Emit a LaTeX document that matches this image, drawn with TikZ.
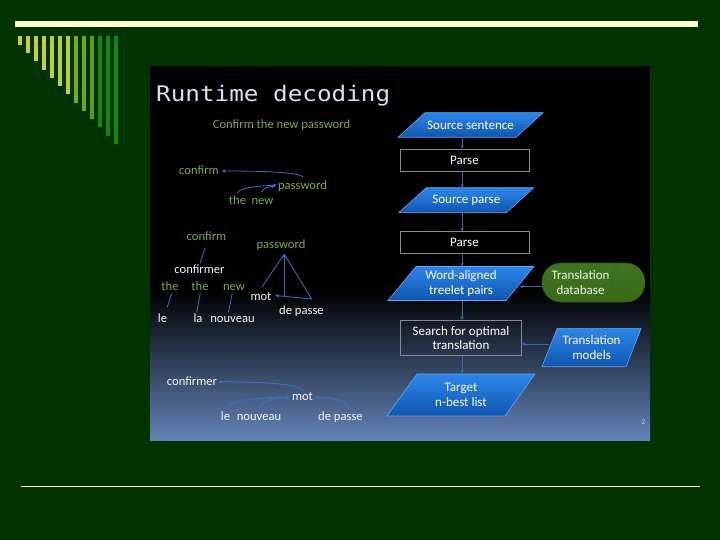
\documentclass[tikz,border=0pt]{standalone}
\usepackage{graphicx}
\usepackage{fontspec}
\setmainfont{Carlito}
\newfontfamily\titlefont{DejaVu Sans Mono}
\usetikzlibrary{arrows.meta}
\definecolor{bg}{HTML}{003300}
\definecolor{cream}{HTML}{FFFFCC}
\definecolor{barA}{HTML}{CCCC44}
\definecolor{barB}{HTML}{BBCC44}
\definecolor{barC}{HTML}{77AA22}
\definecolor{barD}{HTML}{66AA22}
\definecolor{barE}{HTML}{669911}
\definecolor{barF}{HTML}{118811}
\definecolor{imgbot}{HTML}{6383B8}
\definecolor{tgreen}{HTML}{7AAB45}
\definecolor{twhite}{HTML}{F4F4F4}
\definecolor{tblue}{HTML}{3C6FC4}
\definecolor{fblue}{HTML}{3568B0}
\definecolor{boxgrey}{HTML}{8A8A8A}
\definecolor{pblueT}{HTML}{2D86E8}
\definecolor{pblueB}{HTML}{0F55B0}
\definecolor{pblueE}{HTML}{62A6F0}
\definecolor{dbtop}{HTML}{3F7420}
\definecolor{dbmid}{HTML}{5B9430}
\definecolor{dbbot}{HTML}{3A6A18}
\definecolor{dbedge}{HTML}{2F5A14}
\definecolor{dbline}{HTML}{3A6A1C}
\definecolor{dbtext}{HTML}{EEF5E6}
\definecolor{ttl}{HTML}{D2E5F5}
\definecolor{pnum}{HTML}{B0C2E0}
\newcommand\pgram[7]{%
  \shade[pshade] ({#2-#4+#6},{#3-#5}) -- ({#2+#4+#6},{#3-#5}) -- ({#2+#4-#6},{#3+#5}) -- ({#2-#4-#6},{#3+#5}) -- cycle;
  \node[ptext, minimum width={2*#4pt}, minimum height={2*#5pt}] (#1) at (#2,#3) {#7};}
\begin{document}
\begin{tikzpicture}[x=1pt,y=-1pt,
  gt/.style={text=tgreen, font=\fontsize{12.6}{14}\selectfont, inner sep=0pt, anchor=base},
  wt/.style={gt, text=twhite},
  tl/.style={draw=tblue, line width=0.8pt},
  ta/.style={tl, -{Stealth[length=4pt,width=3.5pt]}},
  ptext/.style={text=white, font=\fontsize{13}{14.4}\selectfont, align=center, inner sep=0pt},
  pbox/.style={ptext, draw=boxgrey, line width=0.8pt},
  pshade/.style={top color=pblueT, bottom color=pblueB, draw=pblueE, line width=0.6pt},
  dbox/.style={rectangle, rounded corners=19pt, minimum width=103pt, minimum height=39pt, inner sep=0pt,
    top color=dbtop, middle color=dbmid, bottom color=dbbot, draw=dbedge, line width=0.6pt},
  fc/.style={draw=fblue, line width=0.9pt, -{Stealth[length=3.5pt,width=3.5pt]}}]
\useasboundingbox (0,0) rectangle (720,540);
\fill[bg] (0,0) rectangle (720,540);
% slide decoration
\fill[cream] (15,21) rectangle (698,27);
\foreach \i/\c in {0/barA,1/barA,2/barA,3/barA,4/barB,5/barB,6/barB,7/barC,8/barD,9/barE,10/barF,11/barF,12/barF}
  \fill[\c] ({18+8*\i},36) rectangle ({21.7+8*\i},{45+8.25*\i});
\fill[cream] (20.7,485.5) rectangle (700,487);
% picture
\fill[black] (150,66) rectangle (650,291);
\shade[top color=black, bottom color=imgbot] (150,290) rectangle (650,440.7);
\node[anchor=base west, inner sep=0pt, text=ttl] (title) at (156,102)
  {\scalebox{1.13}[1]{\titlefont\fontsize{21.5}{24}\selectfont Runtime decoding}};
% tree 1
\node[gt] (hdr) at (281.5,129) {Confirm the new password};
\node[gt] (c1) at (199,175) {confirm};
\node[gt] (p1) at (302.5,190) {password};
\node[gt] (t1) at (237.5,204.3) {the};
\node[gt] (n1) at (262.5,204.3) {new};
\draw[ta] ([shift={(0.8,-13)}]p1.base) .. controls +(-6,-5) and +(40,0) .. ([shift={(22.7,-4)}]c1.base);
\draw[ta] ([shift={(-0.2,-11.6)}]t1.base) .. controls +(4,-6) and +(-15,1) .. ([shift={(-25.8,-5)}]p1.base);
\draw[ta] ([shift={(-0.8,-12.3)}]n1.base) .. controls +(3,-5) and +(-8,1) .. ([shift={(-27,-4)}]p1.base);
% tree 2
\node[gt] (c2) at (206.5,240.7) {confirm};
\node[wt] (cr2) at (199.5,273.3) {confirmer};
\node[gt] (th2a) at (170,290) {the};
\node[gt] (th2b) at (200,290) {the};
\node[gt] (nw2) at (234,290) {new};
\node[wt] (le2) at (162.5,322.3) {le};
\node[wt] (la2) at (198,322.3) {la};
\node[wt] (nv2) at (232.5,322.3) {nouveau};
\node[gt] (pw2) at (281,248.3) {password};
\node[wt] (mot2) at (261,300) {mot};
\node[wt] (dp2) at (301.5,314) {de passe};
\draw[tl] ([shift={(-1.5,7.3)}]c2.base) -- ([shift={(0.5,-9.8)}]cr2.base);
\draw[tl] ([shift={(1.7,3.5)}]th2a.base) -- ([shift={(4.8,-15.3)}]le2.base);
\draw[tl] ([shift={(0.3,3)}]th2b.base) -- ([shift={(-1.3,-9.8)}]la2.base);
\draw[tl] ([shift={(-1.7,3)}]nw2.base) -- ([shift={(-4.2,-9.8)}]nv2.base);
\coordinate (apex) at ([shift={(3.3,5.7)}]pw2.base);
\coordinate (rb) at ([shift={(10.2,-15)}]dp2.base);
\draw[tl] (apex) -- ([shift={(0.7,-12.7)}]mot2.base);
\draw[ta] ([shift={(23.3,-3)}]mot2.base) -- (apex);
\draw[tl] (apex) -- (rb);
\draw[ta] (rb) -- ([shift={(14,-4.5)}]mot2.base);
% tree 3
\node[wt] (cr3) at (192,385.7) {confirmer};
\node[wt] (mot3) at (302.5,400.7) {mot};
\node[wt] (le3) at (225.5,420) {le};
\node[wt] (nv3) at (259,420) {nouveau};
\node[wt] (dp3) at (340.5,420) {de passe};
\draw[ta, line width=1pt] ([shift={(0.8,-10)}]mot3.base) .. controls +(-3,-7) and +(40,0) .. ([shift={(26.3,-4)}]cr3.base);
\draw[ta, line width=1pt] ([shift={(1,-11)}]le3.base) .. controls +(2,-9) and +(-30,0) .. ([shift={(-12.5,-3.4)}]mot3.base);
\draw[ta, line width=1pt] ([shift={(-0.7,-11.5)}]nv3.base) .. controls +(3,-7) and +(-15,0) .. ([shift={(-12.5,-3.4)}]mot3.base);
\draw[ta, line width=1pt] ([shift={(9.5,-10.7)}]dp3.base) .. controls +(-1,-9) and +(15,0) .. ([shift={(12.5,-3.4)}]mot3.base);
% flowchart
\coordinate (spine) at (462,0);
\pgram{ss}{470.5}{125}{59}{12.3}{13.5}{Source sentence}
\node[pbox, minimum width=129pt, minimum height=22pt] (pa1) at (464.5,160) {Parse};
\pgram{sp}{466.3}{200.2}{53.8}{12.5}{13.7}{Source parse}
\node[pbox, minimum width=129pt, minimum height=21.3pt] (pa2) at (464.5,242.3) {Parse};
\pgram{wa}{461}{283.5}{59}{17}{14}{Word-aligned\\treelet pairs}
\node[pbox, minimum width=121pt, minimum height=35.5pt] (se) at (461,338) {Search for optimal\\translation};
\pgram{tg}{461}{395}{59}{21}{15}{Target\\n-best list}
\pgram{tm}{591.6}{347.5}{42}{19.2}{7.6}{Translation\\models}
\node[dbox] (db) at (593.5,282.5) {};
\draw[dbline, line width=0.8pt] ([shift={(-26,1)}]db.north east) .. controls +(-10,8) and +(-10,-8) .. ([shift={(-26,-1)}]db.south east);
\node[ptext, text=dbtext] (dbt) at ([xshift=-13pt]db.center) {Translation\\database};
\draw[fc] (ss.south -| spine) -- (pa1.north -| spine);
\draw[fc] (pa1.south -| spine) -- (sp.north -| spine);
\draw[fc] (sp.south -| spine) -- (pa2.north -| spine);
\draw[fc] (pa2.south -| spine) -- (wa.north -| spine);
\draw[fc] (wa.south -| spine) -- (se.north -| spine);
\draw[fc] (se.south -| spine) -- (tg.north -| spine);
\coordinate (dbw) at ([yshift=-4pt]db.west);
\coordinate (tmw) at ([yshift=3.5pt]tm.west);
\draw[fc] (dbw) -- (dbw -| wa.east);
\draw[fc] (tmw) -- (tmw -| se.east);
\node[font=\fontsize{8}{9}\selectfont, text=pnum, inner sep=0pt] (pg) at (643.3,421.7) {2};
\end{tikzpicture}
\end{document}
